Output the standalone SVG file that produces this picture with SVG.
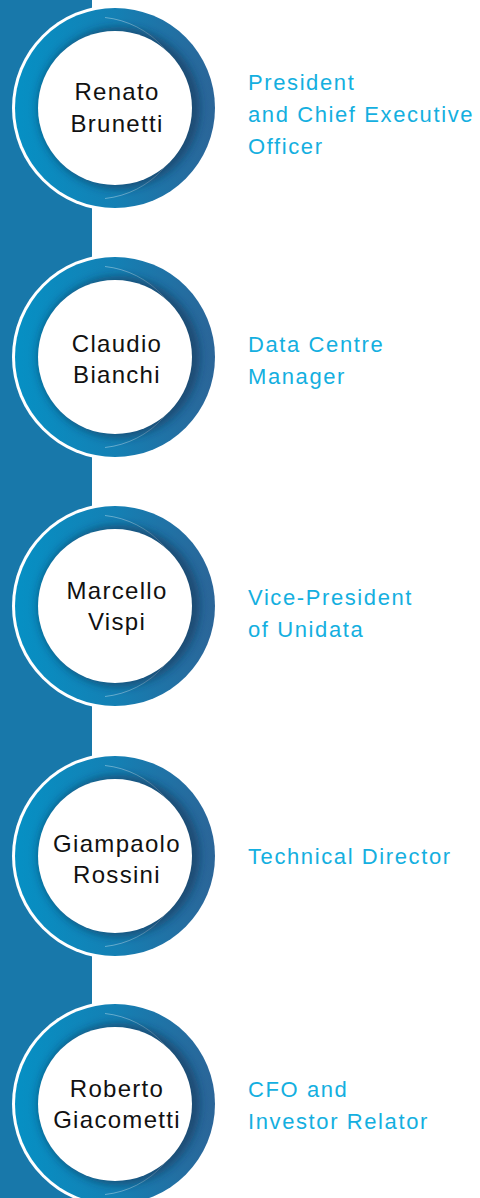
<svg xmlns="http://www.w3.org/2000/svg" width="480" height="1198" viewBox="0 0 480 1198">
<style>
.name{font-family:"Liberation Sans",Arial,sans-serif;font-size:24px;fill:#111;text-anchor:middle;letter-spacing:1.3px}
.title{font-family:"Liberation Sans",Arial,sans-serif;font-size:22px;fill:#14afe0;letter-spacing:1.6px}
</style>
<defs>
<linearGradient id="ringGrad" x1="0" y1="0" x2="1" y2="0">
<stop offset="0" stop-color="#0690c4"/>
<stop offset="0.5" stop-color="#1480b4"/>
<stop offset="1" stop-color="#2b6598"/>
</linearGradient>
<filter id="shadow" x="-30%" y="-30%" width="160%" height="160%">
<feGaussianBlur stdDeviation="4"/>
</filter>
<g id="badge">
<circle r="103" fill="#ffffff"/>
<circle r="100" fill="url(#ringGrad)"/>
<path d="M -10 -90.5 A 91 91 0 0 1 -10 90.5" fill="none" stroke="#ffffff" stroke-opacity="0.35" stroke-width="1"/>
<circle cx="4" cy="0" r="81" fill="#16324f" fill-opacity="0.55" filter="url(#shadow)"/>
<circle r="77" fill="#ffffff"/>
</g>
</defs>
<rect x="0" y="0" width="92" height="1198" fill="#1878aa"/>
<g id="connectors"/>
<g id="node1">
<use href="#badge" x="115" y="108"/>
<text class="name" x="117" y="100">Renato</text>
<text class="name" x="117" y="132">Brunetti</text>
<text class="title" x="248" y="90">President</text>
<text class="title" x="248" y="122">and Chief Executive</text>
<text class="title" x="248" y="154">Officer</text>
</g>
<g id="node2">
<use href="#badge" x="115" y="357"/>
<text class="name" x="117" y="352">Claudio</text>
<text class="name" x="117" y="383">Bianchi</text>
<text class="title" x="248" y="352">Data Centre</text>
<text class="title" x="248" y="384">Manager</text>
</g>
<g id="node3">
<use href="#badge" x="115" y="606"/>
<text class="name" x="117" y="599">Marcello</text>
<text class="name" x="117" y="630">Vispi</text>
<text class="title" x="248" y="605">Vice-President</text>
<text class="title" x="248" y="637">of Unidata</text>
</g>
<g id="node4">
<use href="#badge" x="115" y="856"/>
<text class="name" x="117" y="852">Giampaolo</text>
<text class="name" x="117" y="883">Rossini</text>
<text class="title" x="248" y="864">Technical Director</text>
</g>
<g id="node5">
<use href="#badge" x="115" y="1104"/>
<text class="name" x="117" y="1097">Roberto</text>
<text class="name" x="117" y="1128">Giacometti</text>
<text class="title" x="248" y="1097">CFO and</text>
<text class="title" x="248" y="1129">Investor Relator</text>
</g>
</svg>
